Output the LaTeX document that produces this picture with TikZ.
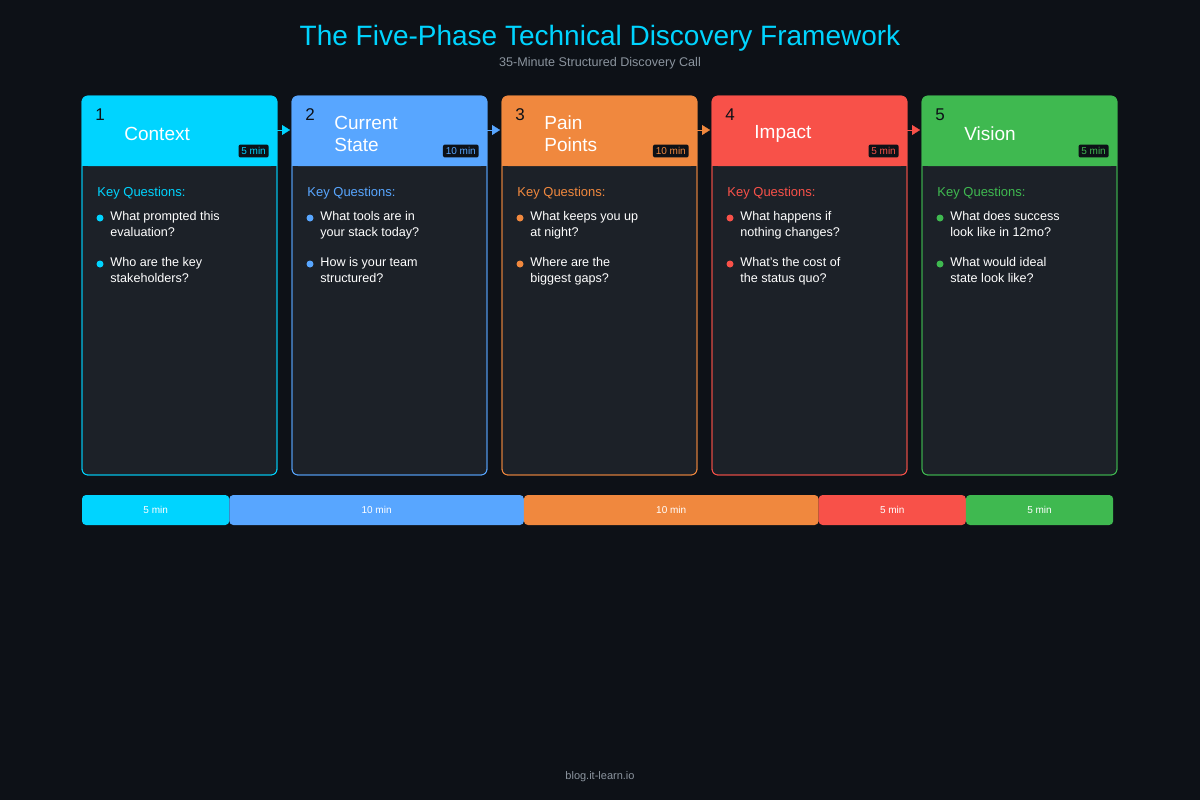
\documentclass[tikz,border=0pt]{standalone}
\usepackage{fontspec}
\setmainfont{Liberation Sans}
\usetikzlibrary{positioning, arrows.meta}

\definecolor{bgdark}{HTML}{0D1117}
\definecolor{cardbg}{HTML}{1C2128}
\definecolor{greytext}{HTML}{8B949E}
\definecolor{phA}{HTML}{00D4FF}
\definecolor{phB}{HTML}{58A6FF}
\definecolor{phC}{HTML}{F0883E}
\definecolor{phD}{HTML}{F85149}
\definecolor{phE}{HTML}{3FB950}

\tikzset{
  card/.style={draw=#1, fill=cardbg, rounded corners=3pt, minimum width=97.5pt, minimum height=189.5pt, inner sep=0pt, line width=0.4pt},
  num/.style={font=\fontsize{8.5}{10}\selectfont, text=bgdark, anchor=center, inner sep=0pt},
  ptitle/.style={font=\fontsize{9.5}{11}\selectfont, text=white, anchor=west, align=left, inner sep=0pt},
  badge/.style={fill=bgdark, text=#1, font=\fontsize{5}{6}\selectfont, rounded corners=1pt, inner sep=1.4pt, anchor=east},
  keyq/.style={font=\fontsize{6.5}{8}\selectfont, text=#1, anchor=west, inner sep=0pt},
  quest/.style={font=\fontsize{6.3}{8}\selectfont, text=white, anchor=north west, align=left, inner sep=0pt},
  dot/.style={circle, fill=#1, inner sep=0pt, minimum size=3.5pt},
  seg/.style={fill=#1, rounded corners=2pt, text=white, font=\fontsize{5}{6}\selectfont},
  step/.style={-{Triangle[length=4pt,width=5pt]}, line width=0.1pt, draw=#1, shorten >=1pt},
}

\begin{document}
\begin{tikzpicture}[x=0.5pt, y=-0.5pt]
\fill[bgdark] (0,0) rectangle (1200,800);
\useasboundingbox (0,0) rectangle (1200,800);

\node[font=\fontsize{14}{16}\selectfont, text=phA] (title) at (600,38) {The Five-Phase Technical Discovery Framework};
\node[font=\fontsize{6.3}{8}\selectfont, text=greytext] (subtitle) at (600,63) {35-Minute Structured Discovery Call};

% phase cards
\foreach \i/\c/\t/\m/\qa/\qb in {
  1/phA/Context/5 min/{What prompted this\\evaluation?}/{Who are the key\\stakeholders?},
  2/phB/{Current\\State}/10 min/{What tools are in\\your stack today?}/{How is your team\\structured?},
  3/phC/{Pain\\Points}/10 min/{What keeps you up\\at night?}/{Where are the\\biggest gaps?},
  4/phD/Impact/5 min/{What happens if\\nothing changes?}/{What's the cost of\\the status quo?},
  5/phE/Vision/5 min/{What does success\\look like in 12mo?}/{What would ideal\\state look like?}} {
  \pgfmathsetmacro{\x}{82+210*(\i-1)}
  \node[card=\c] (card\i) at (\x+97.5,285.5) {};
  \fill[\c, rounded corners=3pt] (\x,96) rectangle (\x+195,166);
  \fill[\c] (\x,140) rectangle (\x+195,166);
  \draw[\c, rounded corners=3pt, line width=0.4pt] (\x,96) rectangle (\x+195,475);
  \node[num] (num\i) at (\x+18,115) {\i};
  \node[ptitle] (name\i) at (\x+42,134) {\t};
  \node[badge=\c] (time\i) at (\x+187,151) {\m};
  \node[keyq=\c] (keyq\i) at (\x+15,193) {Key Questions:};
  \node[dot=\c] (dota\i) at (\x+18,218) {};
  \node[quest] (qa\i) at (\x+28,211) {\qa};
  \node[dot=\c] (dotb\i) at (\x+18,264) {};
  \node[quest] (qb\i) at (\x+28,257) {\qb};
  \coordinate (out\i) at (\x+195,130);
  \coordinate (in\i) at (\x,130);
}

% arrows between phases
\draw[step=phA] (out1) -- (in2);
\draw[step=phB] (out2) -- (in3);
\draw[step=phC] (out3) -- (in4);
\draw[step=phD] (out4) -- (in5);

% timeline
\path[seg=phA] (82,495) rectangle node (barA) {5 min} (229.3,525);
\path[seg=phB] (229.3,495) rectangle node (barB) {10 min} (523.9,525);
\path[seg=phC] (523.9,495) rectangle node (barC) {10 min} (818.6,525);
\path[seg=phD] (818.6,495) rectangle node (barD) {5 min} (965.9,525);
\path[seg=phE] (965.9,495) rectangle node (barE) {5 min} (1113.2,525);

\node[font=\fontsize{5.5}{7}\selectfont, text=greytext] (footer) at (600,777) {blog.it-learn.io};
\end{tikzpicture}
\end{document}
